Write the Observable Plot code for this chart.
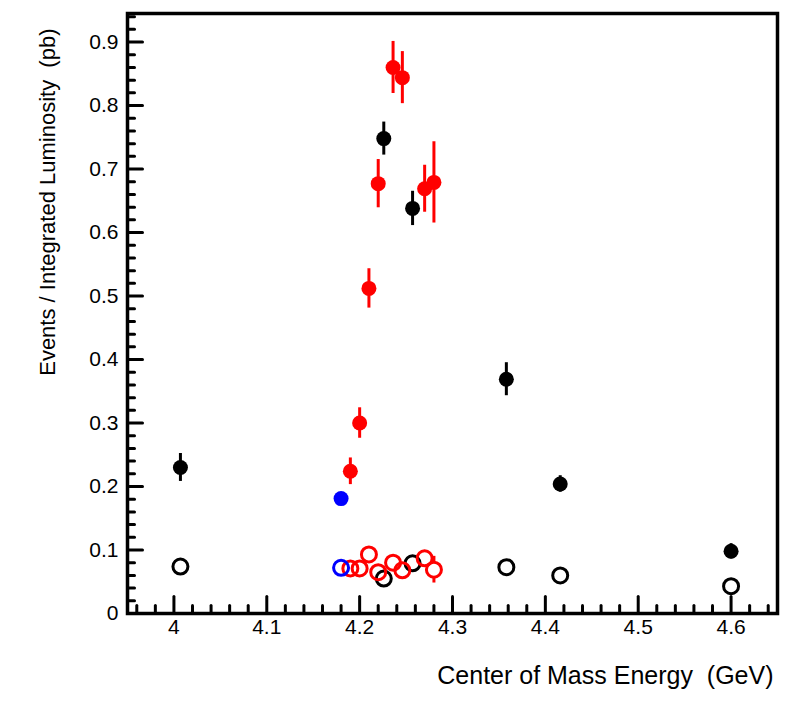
<!DOCTYPE html>
<html>
<head>
<meta charset="utf-8">
<script src="https://cdn.jsdelivr.net/npm/d3@7"></script>
<script src="https://cdn.jsdelivr.net/npm/@observablehq/plot@0.6"></script>
<style>
  html, body { margin: 0; padding: 0; background: #fff; }
</style>
</head>
<body>
<div id="chart"></div>
<script>
// ---- data ----
const blackX = [4.007, 4.226, 4.257, 4.358, 4.416, 4.600];
const blackFilledY = [0.230, 0.748, 0.638, 0.369, 0.204, 0.098];
const blackFilledErr = [0.022, 0.026, 0.027, 0.026, 0.013, 0.012];
const blackOpenY = [0.074, 0.055, 0.079, 0.073, 0.060, 0.043];
const blackOpenErr = [0.008, 0.008, 0.008, 0.008, 0.008, 0.010];

const redX = [4.190, 4.200, 4.210, 4.220, 4.236, 4.246, 4.270, 4.280];
const redFilledY = [0.224, 0.300, 0.512, 0.677, 0.860, 0.844, 0.669, 0.679];
const redFilledErr = [0.021, 0.024, 0.031, 0.038, 0.041, 0.041, 0.037, 0.064];
const redOpenY = [0.071, 0.071, 0.093, 0.065, 0.080, 0.068, 0.087, 0.069];
const redOpenErr = [0.008, 0.008, 0.011, 0.008, 0.008, 0.008, 0.008, 0.021];

const blueX = [4.180];
const blueFilledY = [0.181];
const blueFilledErr = [0.006];
const blueOpenY = [0.072];
const blueOpenErr = [0.006];

const xMajorTicks = [4.0, 4.1, 4.2, 4.3, 4.4, 4.5, 4.6];
const xMinorTicks = [3.96, 3.98, 4.02, 4.04, 4.06, 4.08, 4.12, 4.14, 4.16, 4.18, 4.22, 4.24, 4.26, 4.28,
  4.32, 4.34, 4.36, 4.38, 4.42, 4.44, 4.46, 4.48, 4.52, 4.54, 4.56, 4.58, 4.62, 4.64];
const yMajorTicks = [0, 0.1, 0.2, 0.3, 0.4, 0.5, 0.6, 0.7, 0.8, 0.9];
const yMinorTicks = [0.02, 0.04, 0.06, 0.08, 0.12, 0.14, 0.16, 0.18, 0.22, 0.24, 0.26, 0.28,
  0.32, 0.34, 0.36, 0.38, 0.42, 0.44, 0.46, 0.48, 0.52, 0.54, 0.56, 0.58, 0.62, 0.64, 0.66, 0.68,
  0.72, 0.74, 0.76, 0.78, 0.82, 0.84, 0.86, 0.88, 0.92, 0.94];

const xTitle = "Center of Mass Energy \u00a0(GeV)";
const yTitle = "Events / Integrated Luminosity \u00a0(pb)";

// ---- build tables ----
function series(xs, ys, es, color) {
  return xs.map((x, i) => ({x, y: ys[i], e: es[i], color}));
}
const filled = [
  ...series(blackX, blackFilledY, blackFilledErr, "black"),
  ...series(redX, redFilledY, redFilledErr, "#ff0000"),
  ...series(blueX, blueFilledY, blueFilledErr, "#0000ff")
];
const open = [
  ...series(blackX, blackOpenY, blackOpenErr, "black"),
  ...series(redX, redOpenY, redOpenErr, "#ff0000"),
  ...series(blueX, blueOpenY, blueOpenErr, "#0000ff")
];

const tickShape = {draw(ctx, l) { ctx.moveTo(0, 0); ctx.lineTo(0, -l); }};
const fmt = d3.format("~g");
const font = "'Liberation Sans', Arial, Helvetica, sans-serif";

const chart = Plot.plot({
  width: 804,
  height: 701,
  marginLeft: 127,
  marginRight: 27,
  marginTop: 13,
  marginBottom: 88,
  style: {fontFamily: font, fontSize: "21px", background: "white", color: "black"},
  x: {domain: [3.95, 4.65], axis: null},
  y: {domain: [0, 0.945], axis: null},
  marks: [
    // tick labels
    Plot.text(xMajorTicks, {x: d => d, frameAnchor: "bottom", dy: 20, text: d => fmt(d), fontSize: 21, fill: "black", textAnchor: "middle"}),
    Plot.text(yMajorTicks, {y: d => d, frameAnchor: "left", dx: -9, text: d => fmt(d), fontSize: 21, fill: "black", textAnchor: "end"}),
    // inward ticks
    Plot.vector(xMajorTicks, {x: d => d, frameAnchor: "bottom", length: 17, rotate: 0, anchor: "start", shape: tickShape, stroke: "black", strokeWidth: 3}),
    Plot.vector(xMinorTicks, {x: d => d, frameAnchor: "bottom", length: 8, rotate: 0, anchor: "start", shape: tickShape, stroke: "black", strokeWidth: 3}),
    Plot.vector(yMajorTicks, {y: d => d, frameAnchor: "left", length: 15, rotate: 90, anchor: "start", shape: tickShape, stroke: "black", strokeWidth: 3}),
    Plot.vector(yMinorTicks, {y: d => d, frameAnchor: "left", length: 7, rotate: 90, anchor: "start", shape: tickShape, stroke: "black", strokeWidth: 3}),
    Plot.frame({stroke: "black", strokeWidth: 3.5}),
    // open markers: error bars, hidden inside the marker
    Plot.ruleX(open, {x: "x", y1: d => d.y - d.e, y2: d => d.y + d.e, stroke: "color", strokeWidth: 3}),
    Plot.dot(open, {x: "x", y: "y", r: 7.5, fill: "white", stroke: "none"}),
    Plot.dot(open, {x: "x", y: "y", r: 7.5, stroke: "color", strokeWidth: 3, fill: "none"}),
    // filled markers
    Plot.ruleX(filled, {x: "x", y1: d => d.y - d.e, y2: d => d.y + d.e, stroke: "color", strokeWidth: 3}),
    Plot.dot(filled, {x: "x", y: "y", r: 7.5, fill: "color", stroke: "none"}),
    // titles
    Plot.text([xTitle], {frameAnchor: "bottom-right", textAnchor: "end", dx: -4, dy: 70, fontSize: 25, fill: "black"}),
    Plot.text([yTitle], {frameAnchor: "top-left", textAnchor: "end", rotate: -90, dx: -88, dy: 15, fontSize: 22, fill: "black"})
  ]
});
document.getElementById("chart").appendChild(chart);
</script>
</body>
</html>
